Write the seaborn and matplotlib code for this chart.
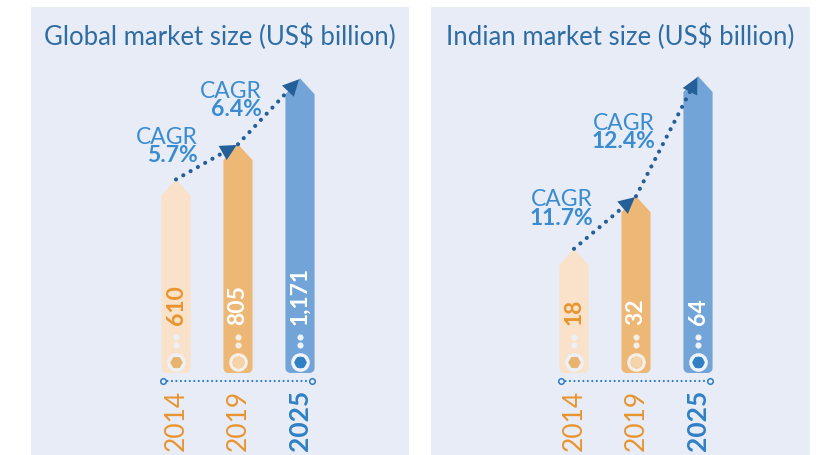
import matplotlib
matplotlib.use("Agg")
import numpy as np
import pandas as pd
import matplotlib.pyplot as plt
import matplotlib.transforms as mtransforms
from matplotlib.patches import Polygon
import seaborn as sns

# ---- data ----
years = ["2014", "2019", "2025"]
global_size = [610, 805, 1171]
india_size = [18, 32, 64]
global_cagr = ["5.7%", "6.4%"]
india_cagr = ["11.7%", "12.4%"]
titles = ["Global market size (US$ billion)", "Indian market size (US$ billion)"]

# ---- styling ----
bar_colors = ["#F9E2C9", "#EDB776", "#72A4D7"]
hex_colors = ["#E8B26F", "#F6D4AA", "#2F80C4"]
ring_colors = ["#EEF0F7", "#F6EFE7", "#EFF4FA"]
value_colors = ["#E8942E", "#FFFFFF", "#FFFFFF"]
year_colors = ["#E8942E", "#E8942E", "#2F80C4"]
year_weights = ["normal", "normal", "bold"]
PANEL_BG = "#E8ECF6"
TITLE_C = "#2E6DA4"
CAGR_C = "#3A8CD0"
ARROW_C = "#245F97"
AXIS_C = "#2F7DC1"

W, H = 818, 455          # figure size in pixels
PANEL_H = 448            # panel height in pixels (white strip above)
BASE_PX = 82             # bar foot height above panel bottom
CAT_PX = 62              # pixels between categories

sns.set_theme(style="white")
plt.rcParams["font.family"] = ["Lato", "DejaVu Sans"]

fig = plt.figure(figsize=(W / 100, H / 100), dpi=100)
fig.patch.set_facecolor("white")


def fy(px_from_top):
    """Axes-fraction y for a distance measured from the top of the figure."""
    return (H - px_from_top) / PANEL_H


def arrow_bar(ax, x0, w, bottom, top, rx, ry, tip, color):
    t1 = np.linspace(np.pi, 1.5 * np.pi, 10)
    t2 = np.linspace(1.5 * np.pi, 2 * np.pi, 10)
    left_arc = np.column_stack([x0 + rx + rx * np.cos(t1), bottom + ry + ry * np.sin(t1)])
    right_arc = np.column_stack([x0 + w - rx + rx * np.cos(t2), bottom + ry + ry * np.sin(t2)])
    head = np.array([[x0 + w, top - tip], [x0 + w / 2, top], [x0, top - tip]])
    pts = np.vstack([left_arc, right_arc, head])
    ax.add_patch(Polygon(pts, closed=True, facecolor=color, edgecolor="none", zorder=2))


def panel(left_px, width_px, first_px, values, cagr, title, px_per_unit, pedestal_px, cagr_pos):
    ax = fig.add_axes([left_px / W, 0, width_px / W, PANEL_H / H])
    df = pd.DataFrame({"year": years, "size": values})
    sns.barplot(data=df, x="year", y="size", hue="year", palette=bar_colors,
                width=0.47, dodge=False, legend=False, errorbar=None, ax=ax)
    ax.set_facecolor(PANEL_BG)
    for s in ax.spines.values():
        s.set_visible(False)
    ax.set_xticks([])
    ax.set_yticks([])
    ax.set_xlabel("")
    ax.set_ylabel("")

    ux = 1 / CAT_PX
    uy = 1 / px_per_unit
    base = -pedestal_px * uy
    ax.set_xlim(-first_px * ux, (width_px - first_px) * ux)
    ax.set_ylim(base - BASE_PX * uy, base + (PANEL_H - BASE_PX) * uy)

    trans = mtransforms.blended_transform_factory(ax.transData, ax.transAxes)

    bars = sorted(ax.patches, key=lambda p: p.get_x())
    centers, tops = [], []
    for i, bar in enumerate(bars):
        x0, w, top = bar.get_x(), bar.get_width(), bar.get_height()
        bar.remove()
        arrow_bar(ax, x0, w, base, top, 5 * ux, 5 * uy, 16 * uy, bar_colors[i])
        xc = x0 + w / 2
        centers.append(xc)
        tops.append(top)

        ax.text(xc, fy(325), f"{values[i]:,}", rotation=90, ha="center", va="bottom",
                transform=trans, fontsize=16.5, fontweight="bold", color=value_colors[i], zorder=5)
        ax.plot([xc, xc], [fy(337), fy(345)], transform=trans, linestyle="none",
                marker="o", markersize=3.4, color=ring_colors[i], zorder=5)
        ax.plot(xc, fy(362), transform=trans, marker="o", markersize=11, mfc="none",
                mec=ring_colors[i], mew=2.4, zorder=5)
        ax.plot(xc, fy(362), transform=trans, marker="H", markersize=9,
                color=hex_colors[i], mew=0, zorder=6)
        ax.text(xc, fy(390), years[i], rotation=90, ha="center", va="top", transform=trans,
                fontsize=19, fontweight=year_weights[i], color=year_colors[i])

    # dotted baseline with open end markers
    xa, xb = centers[0] - 0.21, centers[-1] + 0.19
    ax.plot([xa, xb], [fy(381)] * 2, transform=trans, linestyle=(0, (0.01, 2.0)),
            lw=1.6, dash_capstyle="round", color=AXIS_C)
    ax.plot([xa, xb], [fy(381)] * 2, transform=trans, linestyle="none", marker="o",
            markersize=4, mfc=PANEL_BG, mec=AXIS_C, mew=1.1)

    # dotted growth arrows between bar tips
    for i in range(len(values) - 1):
        xs, ys = centers[i], tops[i]
        xe, ye = centers[i + 1], tops[i + 1]
        ax.plot([xs, xs + 0.88 * (xe - xs)], [ys, ys + 0.88 * (ye - ys)],
                linestyle=(0, (0.01, 2.0)), lw=3.0, dash_capstyle="round",
                color=ARROW_C, zorder=7)
        ax.annotate("", xy=(xe, ye), xytext=(xs + 0.8 * (xe - xs), ys + 0.8 * (ye - ys)),
                    arrowprops=dict(arrowstyle="-|>,head_length=0.9,head_width=0.45",
                                    color=ARROW_C, lw=0, shrinkA=0, shrinkB=1,
                                    mutation_scale=13), zorder=8)
        dx, base_px_y = cagr_pos[i]
        ax.text(centers[i] + dx, fy(base_px_y), "CAGR", ha="right", va="baseline",
                transform=trans, fontsize=16.5, color=CAGR_C)
        ax.text(centers[i] + dx, fy(base_px_y + 19), cagr[i], ha="right", va="baseline",
                transform=trans, fontsize=16.5, fontweight="bold", color=CAGR_C)

    ax.text(0.5, fy(45.5), title, ha="center", va="baseline", transform=ax.transAxes,
            fontsize=18.5, color=TITLE_C)
    return ax


panel(31, 378, 145, global_size, global_cagr, titles[0], 0.1803, 83.6,
      [(0.355, 143.5), (0.387, 97.5)])
panel(431, 379, 143, india_size, india_cagr, titles[1], 3.755, 56.6,
      [(0.306, 206), (0.306, 129.5)])

fig.savefig("out.png", dpi=100, facecolor="white")
